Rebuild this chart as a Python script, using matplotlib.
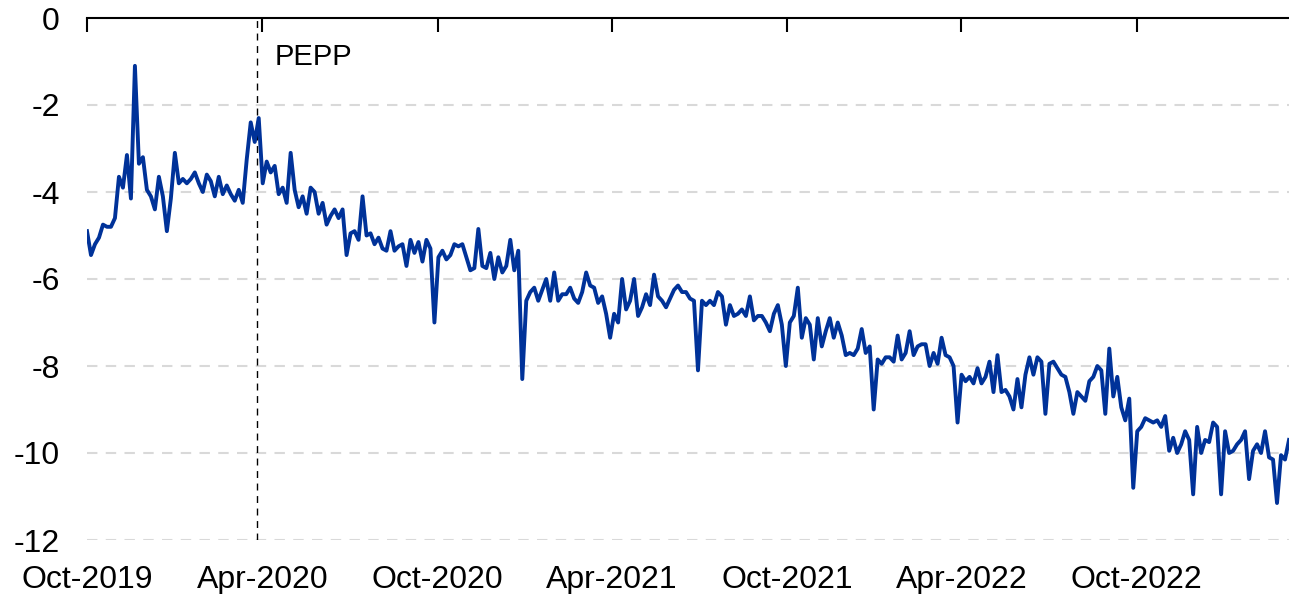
import matplotlib
matplotlib.use("Agg")
import matplotlib.pyplot as plt
import pandas as pd

# ---- data (~4-day grid) ----
start_date = "2019-10-01"
end_date = "2023-03-09"
values = [
    -4.9, -5.45, -5.2, -5.05, -4.75, -4.8, -4.8, -4.6, -3.65, -3.9,
    -3.15, -4.15, -1.1, -3.35, -3.2, -3.95, -4.1, -4.4, -3.65, -4.1,
    -4.9, -4.15, -3.1, -3.8, -3.7, -3.8, -3.7, -3.55, -3.8, -4.0,
    -3.6, -3.75, -4.1, -3.65, -4.05, -3.85, -4.05, -4.2, -3.95, -4.25,
    -3.25, -2.4, -2.85, -2.3, -3.8, -3.3, -3.55, -3.4, -4.05, -3.9,
    -4.25, -3.1, -3.95, -4.35, -4.1, -4.5, -3.9, -4.0, -4.5, -4.25,
    -4.75, -4.55, -4.4, -4.6, -4.4, -5.45, -4.95, -4.9, -5.1, -4.1,
    -5.0, -4.95, -5.2, -5.05, -5.3, -5.35, -4.9, -5.35, -5.25, -5.2,
    -5.7, -5.1, -5.4, -5.15, -5.6, -5.1, -5.3, -7.0, -5.5, -5.35,
    -5.55, -5.45, -5.2, -5.25, -5.2, -5.5, -5.8, -5.75, -4.85, -5.7,
    -5.75, -5.4, -6.0, -5.5, -5.85, -5.7, -5.1, -5.8, -5.35, -8.3,
    -6.5, -6.3, -6.2, -6.5, -6.25, -6.0, -6.5, -5.85, -6.5, -6.35,
    -6.35, -6.2, -6.45, -6.55, -6.3, -5.85, -6.15, -6.2, -6.55, -6.4,
    -6.8, -7.35, -6.8, -7.0, -6.0, -6.7, -6.5, -6.0, -6.85, -6.65,
    -6.35, -6.6, -5.9, -6.4, -6.5, -6.65, -6.45, -6.25, -6.15, -6.3,
    -6.3, -6.45, -6.5, -8.1, -6.5, -6.6, -6.5, -6.6, -6.3, -6.4,
    -7.05, -6.6, -6.85, -6.8, -6.7, -6.85, -6.4, -6.95, -6.85, -6.85,
    -7.0, -7.2, -6.8, -6.6, -7.05, -8.0, -7.0, -6.85, -6.2, -7.35,
    -6.9, -7.05, -7.85, -6.9, -7.55, -7.2, -6.9, -7.35, -7.0, -7.3,
    -7.75, -7.7, -7.75, -7.6, -7.15, -7.7, -7.55, -9.0, -7.85, -7.95,
    -7.8, -7.8, -7.9, -7.3, -7.85, -7.7, -7.2, -7.75, -7.55, -7.5,
    -7.5, -8.0, -7.7, -7.95, -7.35, -7.75, -7.8, -8.0, -9.3, -8.2,
    -8.35, -8.25, -8.4, -8.05, -8.4, -8.25, -7.9, -8.6, -7.75, -8.6,
    -8.55, -8.7, -9.0, -8.3, -8.95, -8.2, -7.8, -8.2, -7.8, -7.9,
    -9.1, -7.95, -7.9, -8.05, -8.2, -8.25, -8.6, -9.1, -8.6, -8.7,
    -8.8, -8.35, -8.25, -8.0, -8.1, -9.1, -7.6, -8.7, -8.25, -8.95,
    -9.25, -8.75, -10.8, -9.5, -9.4, -9.2, -9.25, -9.3, -9.25, -9.4,
    -9.15, -9.95, -9.65, -10.0, -9.8, -9.5, -9.7, -10.95, -9.4, -10.0,
    -9.7, -9.75, -9.3, -9.4, -10.95, -9.5, -10.0, -9.95, -9.8, -9.7,
    -9.5, -10.6, -9.95, -9.8, -10.0, -9.5, -10.1, -10.15, -11.15, -10.05,
    -10.15, -9.7,
]
dates = pd.date_range(start_date, end_date, periods=len(values))

tick_dates = pd.to_datetime(["2019-10-01", "2020-04-01", "2020-10-01", "2021-04-01",
                             "2021-10-01", "2022-04-01", "2022-10-01"])
tick_labels = ["Oct-2019", "Apr-2020", "Oct-2020", "Apr-2021",
               "Oct-2021", "Apr-2022", "Oct-2022"]
y_ticks = [0, -2, -4, -6, -8, -10, -12]
pepp_date = pd.Timestamp("2020-03-26")
pepp_label = "PEPP"

# ---- plot ----
plt.rcParams['font.family'] = ['Liberation Sans', 'DejaVu Sans']
fig = plt.figure(figsize=(12.89, 5.94), dpi=100)
ax = fig.add_axes([87/1289, 1 - 540/594, 1 - 87/1289, (540 - 18)/594])

for yv in y_ticks[1:]:
    ax.axhline(yv, color="#d9d9d9", lw=1.5, ls=(0, (5, 4)), zorder=1)

ax.plot(dates, values, color="#003299", lw=2.8, zorder=3)
ax.axvline(pepp_date, ymin=0, ymax=1, color="black", lw=1, ls=(0, (5, 4)), zorder=2)
ax.text(pd.Timestamp("2020-04-14"), -0.9, pepp_label, fontsize=21, va="center", ha="left")

ax.set_ylim(-12, 0)
ax.set_xlim(pd.Timestamp("2019-10-01"), pd.Timestamp("2023-03-09"))
ax.set_yticks(y_ticks)
ax.set_yticklabels([str(v) for v in y_ticks])
ax.set_xticks(tick_dates)
ax.set_xticklabels(tick_labels)

for s in ["left", "right", "bottom"]:
    ax.spines[s].set_visible(False)
ax.spines["top"].set_linewidth(1.5)
ax.spines["top"].set_color("black")

ax.tick_params(axis="x", top=True, bottom=False, direction="in", length=10, width=1.5,
               labeltop=False, labelbottom=True, labelsize=23, pad=18)
ax.tick_params(axis="y", left=False, labelsize=23, pad=16)

fig.savefig("out.png", dpi=100)
